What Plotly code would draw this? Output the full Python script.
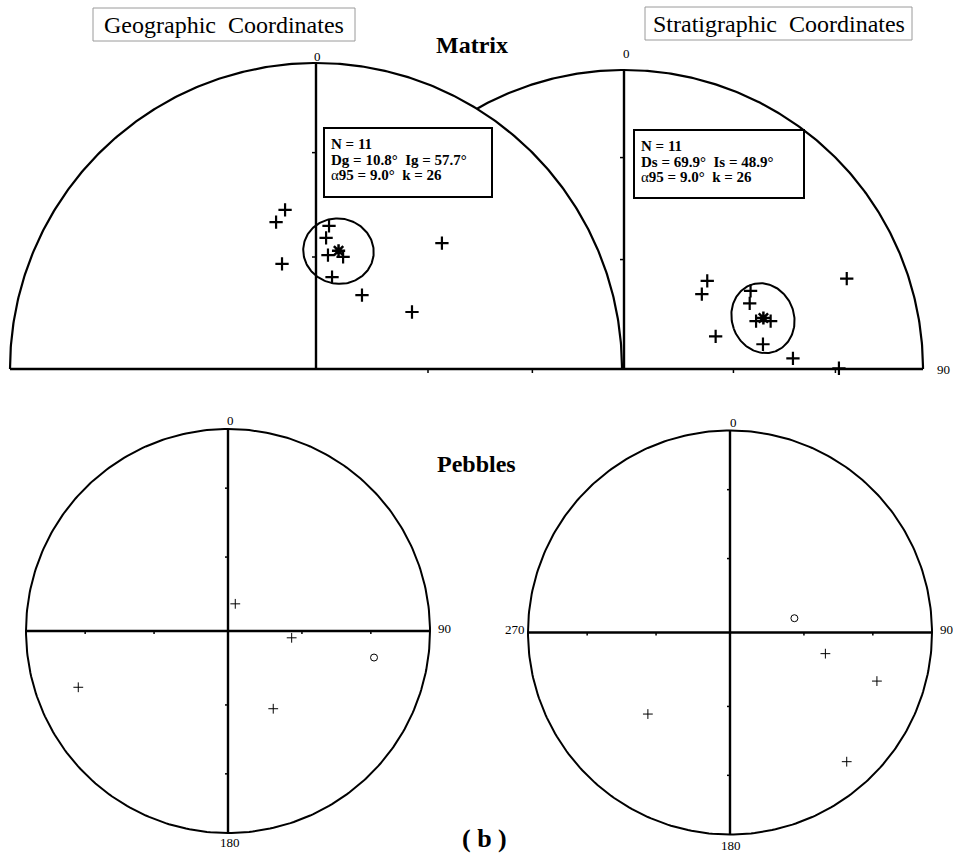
import numpy as np
import plotly.graph_objects as go

# ---------------- data: directions (declination, inclination) in degrees ----------------
# Matrix, geographic coordinates (lower hemisphere)
geo_matrix_dec = [349.0, 344.8, 342.1, 5.2, 4.4, 6.0, 13.6, 9.9, 31.9, 59.3, 45.0]
geo_matrix_inc = [46.0, 48.8, 60.4, 51.2, 54.6, 59.3, 59.1, 65.1, 66.8, 60.1, 41.4]
geo_mean = {"dec": 10.8, "inc": 57.7, "a95": 9.0, "k": 26, "n": 11}

# Matrix, stratigraphic coordinates (lower hemisphere)
strat_matrix_dec = [43.4, 46.1, 70.4, 58.3, 62.4, 70.1, 71.9, 79.9, 86.4, 89.8, 67.9]
strat_matrix_inc = [56.7, 60.4, 63.4, 48.8, 50.8, 51.2, 47.2, 51.0, 42.8, 28.9, 20.7]
strat_mean = {"dec": 69.9, "inc": 48.9, "a95": 9.0, "k": 26, "n": 11}

# Pebbles (negative inclination = upper hemisphere, open circle)
geo_pebble_dec = [15.0, 96.1, 100.3, 249.4, 149.8]
geo_pebble_inc = [78.7, 64.1, -27.4, 21.9, 53.3]
strat_pebble_dec = [77.5, 102.5, 108.3, 137.9, 225.2]
strat_pebble_inc = [-63.3, 50.0, 24.4, 14.9, 42.2]

tick_incs = [30, 60]  # inclination ticks along the net axes

# ---------------- net placement (page units, y grows downward) ----------------
NETS = {
    "geo_matrix": dict(cx=316, cy=369, R=306),
    "strat_matrix": dict(cx=624, cy=369, R=299),
    "geo_pebble": dict(cx=228, cy=631, R=202),
    "strat_pebble": dict(cx=730, cy=632.5, R=202),
}

SERIF = "Liberation Serif, Times New Roman, serif"
BLACK = "#000000"


def ea_radius(inc, R):
    """Equal-area (Schmidt) radial distance for a given inclination."""
    p = np.radians(90.0 - np.abs(np.asarray(inc, dtype=float)))
    return R * np.sqrt(2.0) * np.sin(p / 2.0)


def project(dec, inc, net):
    d = np.radians(np.asarray(dec, dtype=float))
    r = ea_radius(inc, net["R"])
    return net["cx"] + r * np.sin(d), net["cy"] - r * np.cos(d)


def cone(dec, inc, a95, n=181):
    """Small circle of radius a95 around a direction, returned as dec/inc arrays."""
    D, I, a = np.radians(dec), np.radians(inc), np.radians(a95)
    m = np.array([np.cos(I) * np.cos(D), np.cos(I) * np.sin(D), np.sin(I)])
    u1 = np.array([-np.sin(I) * np.cos(D), -np.sin(I) * np.sin(D), np.cos(I)])
    u2 = np.cross(m, u1)
    t = np.linspace(0, 2 * np.pi, n)
    v = (np.cos(a) * m[:, None]
         + np.sin(a) * (np.cos(t)[None, :] * u1[:, None] + np.sin(t)[None, :] * u2[:, None]))
    decs = np.degrees(np.arctan2(v[1], v[0])) % 360
    incs = np.degrees(np.arcsin(np.clip(v[2], -1, 1)))
    return decs, incs


def arc(net, a0, a1, n=361):
    t = np.radians(np.linspace(a0, a1, n))
    return net["cx"] + net["R"] * np.sin(t), net["cy"] - net["R"] * np.cos(t)


fig = go.Figure()


def line(x, y, width=2.2, fill=None):
    fig.add_trace(go.Scatter(
        x=x, y=y, mode="lines", hoverinfo="skip", showlegend=False,
        line=dict(color=BLACK, width=width),
        fill=fill, fillcolor="white" if fill else None,
    ))


def ticks(net, directions, length=4):
    xs, ys = [], []
    for ax in directions:
        for inc in tick_incs:
            r = float(ea_radius(inc, net["R"]))
            if ax == "N":
                x0, y0 = net["cx"], net["cy"] - r
                xs += [x0, x0 - length, None]; ys += [y0, y0, None]
            elif ax == "S":
                x0, y0 = net["cx"], net["cy"] + r
                xs += [x0, x0 - length, None]; ys += [y0, y0, None]
            elif ax == "E":
                x0, y0 = net["cx"] + r, net["cy"]
                xs += [x0, x0, None]; ys += [y0, y0 + length, None]
            elif ax == "W":
                x0, y0 = net["cx"] - r, net["cy"]
                xs += [x0, x0, None]; ys += [y0, y0 + length, None]
    fig.add_trace(go.Scatter(x=xs, y=ys, mode="lines", hoverinfo="skip",
                             showlegend=False, line=dict(color=BLACK, width=1.5)))


def points(dec, inc, net, size, width, symbol_down, symbol_up="circle-open"):
    x, y = project(dec, inc, net)
    sym = [symbol_down if i >= 0 else symbol_up for i in inc]
    fig.add_trace(go.Scatter(
        x=x, y=y, mode="markers", hoverinfo="skip", showlegend=False,
        marker=dict(symbol=sym, size=size, color=BLACK,
                    line=dict(color=BLACK, width=width)),
    ))


def mean_and_cone(m, net):
    cd, ci = cone(m["dec"], m["inc"], m["a95"])
    cx, cy = project(cd, ci, net)
    line(cx, cy, width=2)
    mx, my = project([m["dec"]], [m["inc"]], net)
    fig.add_trace(go.Scatter(
        x=mx, y=my, mode="markers", hoverinfo="skip", showlegend=False,
        marker=dict(symbol="asterisk-open", size=11, color=BLACK,
                    line=dict(color=BLACK, width=2.5)),
    ))


# ---------------- Matrix: stratigraphic half-net (drawn first, partly hidden) ----------------
sm = NETS["strat_matrix"]
ax_, ay_ = arc(sm, -90, 90)
line(ax_, ay_, width=2.2)

# ---------------- Matrix: geographic half-net (white, on top) ----------------
gm = NETS["geo_matrix"]
gx, gy = arc(gm, -90, 90)
line(list(gx) + [gx[0]], list(gy) + [gy[0]], width=2.2, fill="toself")

# axes of the half-nets
line([gm["cx"] - gm["R"], sm["cx"] + sm["R"]], [gm["cy"], sm["cy"]], width=2.4)
line([gm["cx"], gm["cx"]], [gm["cy"], gm["cy"] - gm["R"]], width=2.4)
line([sm["cx"], sm["cx"]], [sm["cy"], sm["cy"] - sm["R"]], width=2.4)
ticks(gm, ["N", "E"])
ticks(sm, ["N", "E"])

mean_and_cone(geo_mean, gm)
points(geo_matrix_dec, geo_matrix_inc, gm, 9.5, 2.2, "cross-thin-open")
mean_and_cone(strat_mean, sm)
points(strat_matrix_dec, strat_matrix_inc, sm, 9.5, 2.2, "cross-thin-open")

# ---------------- Pebbles: full nets ----------------
for key in ["geo_pebble", "strat_pebble"]:
    net = NETS[key]
    px, py = arc(net, 0, 360)
    line(px, py, width=2)
    line([net["cx"] - net["R"], net["cx"] + net["R"]], [net["cy"], net["cy"]], width=2.4)
    line([net["cx"], net["cx"]], [net["cy"] - net["R"], net["cy"] + net["R"]], width=2.4)
    ticks(net, ["N", "S", "E", "W"], length=3)

points(geo_pebble_dec, geo_pebble_inc, NETS["geo_pebble"], 7, 1, "cross-thin-open")
points(strat_pebble_dec, strat_pebble_inc, NETS["strat_pebble"], 7, 1, "cross-thin-open")

# ---------------- boxes and text ----------------
shapes = [
    dict(type="rect", x0=93, y0=8, x1=355, y1=41, line=dict(color="#9a9a9a", width=1)),
    dict(type="rect", x0=645, y0=7, x1=912, y1=40, line=dict(color="#9a9a9a", width=1)),
    dict(type="rect", x0=324, y0=128, x1=492, y1=197, fillcolor="white",
         line=dict(color=BLACK, width=2), layer="above"),
    dict(type="rect", x0=634, y0=130, x1=804, y1=198, fillcolor="white",
         line=dict(color=BLACK, width=2), layer="above"),
]

NB = "\u00a0"
annotations = []


def text(x, y, s, size=12, xanchor="center", bold=False):
    annotations.append(dict(
        x=x, y=y, xref="x", yref="y", text=f"<b>{s}</b>" if bold else s,
        showarrow=False, xanchor=xanchor, yanchor="middle",
        font=dict(family=SERIF, size=size, color=BLACK),
    ))


text(224, 25, f"Geographic{NB} Coordinates", size=24)
text(778.5, 24, f"Stratigraphic{NB} Coordinates", size=24)
text(472, 45, "Matrix", size=24, bold=True)
text(476, 464, "Pebbles", size=24, bold=True)
text(484, 838, f"({NB}b{NB})", size=26, bold=True)

info = [(geo_mean, "Dg", "Ig", 329, 144), (strat_mean, "Ds", "Is", 639, 146)]
for m, dl, il, x0, y0 in info:
    text(x0, y0, f"N = {m['n']}", size=15, xanchor="left", bold=True)
    text(x0, y0 + 15.5, f"{dl} = {m['dec']:.1f}°{NB} {il} = {m['inc']:.1f}°",
         size=15, xanchor="left", bold=True)
    annotations.append(dict(
        x=x0, y=y0 + 31, xref="x", yref="y", showarrow=False,
        xanchor="left", yanchor="middle",
        text=f"α<b>95 = {m['a95']:.1f}°{NB} k = {m['k']}</b>",
        font=dict(family=SERIF, size=15, color=BLACK),
    ))

# direction labels
text(317, 56, "0", size=13)
text(626, 53, "0", size=13)
text(943, 369, "90", size=13)
text(230, 420, "0", size=13)
text(444, 628, "90", size=13)
text(230, 842, "180", size=13)
text(733, 422, "0", size=13)
text(515, 629, "270", size=13)
text(946, 629, "90", size=13)
text(731, 845, "180", size=13)

fig.update_layout(
    width=953, height=853,
    margin=dict(l=0, r=0, t=0, b=0),
    paper_bgcolor="white", plot_bgcolor="white",
    shapes=shapes, annotations=annotations,
    xaxis=dict(range=[0, 953], visible=False, fixedrange=True),
    yaxis=dict(range=[853, 0], visible=False, fixedrange=True),
    showlegend=False,
)

fig.write_html("out.html")
